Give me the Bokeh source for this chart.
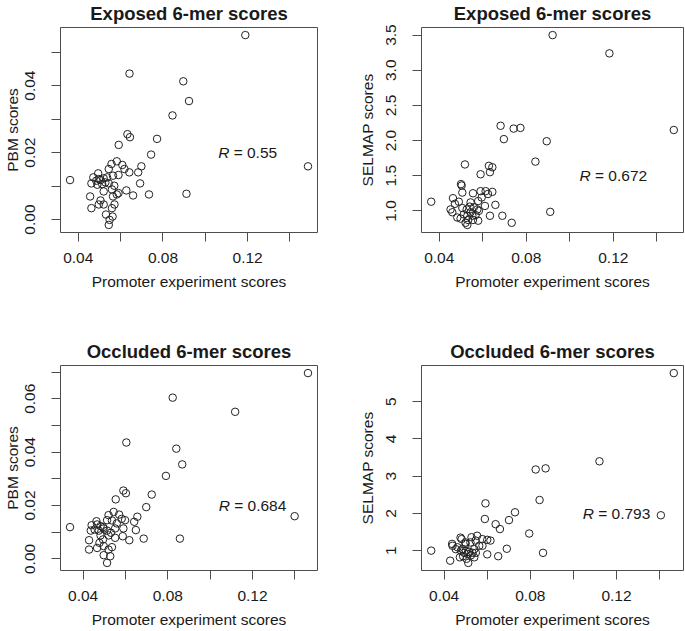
from bokeh.plotting import figure
from bokeh.layouts import column, row
from bokeh.models import (Range1d, LinearAxis, FixedTicker, PrintfTickFormatter,
                          ColumnDataSource)
from bokeh.core.properties import value
from bokeh.embed import file_html
from bokeh.resources import INLINE

FONT = "Liberation Sans"

# ---------------- data ----------------
# Exposed 6-mer scores: promoter experiment (x) vs PBM (y)
exp_pbm_x = [0.1189, 0.0642, 0.0896, 0.0923, 0.0845, 0.0632, 0.0644, 0.0772, 0.0591, 0.0744,
             0.1485, 0.0361, 0.0911, 0.0734, 0.0659, 0.0698, 0.0683, 0.0692, 0.0627,
             0.0582, 0.0557, 0.0608, 0.0618, 0.0641, 0.0544, 0.0590, 0.0564, 0.0494, 0.0471,
             0.0462, 0.0485, 0.0505, 0.0520, 0.0513, 0.0528, 0.0544, 0.0520, 0.0559, 0.0590,
             0.0582, 0.0564, 0.0456, 0.0505, 0.0497, 0.0520, 0.0571, 0.0462, 0.0559, 0.0531,
             0.0562, 0.0548, 0.0544, 0.0497, 0.0536, 0.0490, 0.0570]
exp_pbm_y = [0.0551, 0.0436, 0.0413, 0.0354, 0.0311, 0.0255, 0.0246, 0.0241, 0.0223, 0.0194,
             0.0159, 0.0118, 0.0077, 0.0075, 0.0072, 0.0159, 0.0141, 0.0108, 0.0087,
             0.0174, 0.0166, 0.0163, 0.0151, 0.0141, 0.0151, 0.0133, 0.0131, 0.0138, 0.0126,
             0.0108, 0.0116, 0.0118, 0.0123, 0.0106, 0.0111, 0.0108, 0.0084, 0.0090, 0.0079,
             0.0075, 0.0069, 0.0069, 0.0057, 0.0045, 0.0045, 0.0045, 0.0034, 0.0034, 0.0015,
             0.0009, -0.0001, -0.0016, 0.0121, 0.0126, 0.0104, 0.0101]

# Exposed 6-mer scores: promoter experiment (x) vs SELMAP (y)
exp_sel_x = [0.0921, 0.1182, 0.1478, 0.0682, 0.0742, 0.0773, 0.0697, 0.0894, 0.0842, 0.0910,
             0.0733, 0.0690, 0.0633, 0.0658, 0.0644, 0.0628, 0.0644, 0.0633, 0.0518, 0.0590,
             0.0363, 0.0500, 0.0503, 0.0506, 0.0463, 0.0472, 0.0555, 0.0590, 0.0613, 0.0624,
             0.0595, 0.0579, 0.0610, 0.0544, 0.0490, 0.0452, 0.0460, 0.0506, 0.0526, 0.0540,
             0.0559, 0.0575, 0.0582, 0.0544, 0.0513, 0.0529, 0.0552, 0.0567, 0.0483, 0.0498,
             0.0533, 0.0555, 0.0579, 0.0521, 0.0529]
exp_sel_y = [3.50, 3.24, 2.15, 2.21, 2.17, 2.18, 2.02, 1.99, 1.70, 0.986,
             0.83, 0.93, 0.93, 1.085, 1.27, 1.64, 1.62, 1.55, 1.66, 1.52,
             1.13, 1.38, 1.36, 1.26, 1.18, 1.10, 1.25, 1.28, 1.28, 1.24,
             1.19, 1.14, 1.07, 1.12, 1.13, 1.02, 0.98, 1.04, 1.02, 1.06,
             1.05, 1.02, 1.00, 0.98, 0.95, 0.93, 0.93, 0.94, 0.905, 0.89,
             0.87, 0.87, 0.86, 0.83, 0.80]

# Occluded 6-mer scores: promoter experiment (x) vs PBM (y)
occ_pbm_x = [0.1462, 0.0823, 0.1118, 0.0604, 0.0840, 0.0868, 0.0791, 0.0590, 0.0602, 0.0724,
             0.0554, 0.0698, 0.1399, 0.0338, 0.0857, 0.0686, 0.0618, 0.0656, 0.0641, 0.0649,
             0.0587, 0.0544, 0.0520, 0.0570, 0.0582, 0.0598, 0.0536, 0.0513, 0.0559, 0.0463,
             0.0440, 0.0466, 0.0482, 0.0494, 0.0436, 0.0454, 0.0474, 0.0497, 0.0513, 0.0590,
             0.0551, 0.0531, 0.0428, 0.0482, 0.0520, 0.0551, 0.0494, 0.0477, 0.0466, 0.0497,
             0.0536, 0.0428, 0.0520, 0.0497, 0.0528, 0.0513]
occ_pbm_y = [0.0696, 0.0604, 0.0551, 0.0436, 0.0413, 0.0354, 0.0311, 0.0256, 0.0246, 0.0241,
             0.0223, 0.0194, 0.0160, 0.0119, 0.0076, 0.0076, 0.0070, 0.0158, 0.0139, 0.0108,
             0.0085, 0.0176, 0.0164, 0.0166, 0.0150, 0.0145, 0.0144, 0.0145, 0.0133, 0.0141,
             0.0126, 0.0129, 0.0123, 0.0119, 0.0106, 0.0110, 0.0106, 0.0114, 0.0106, 0.0114,
             0.0114, 0.0098, 0.0070, 0.0088, 0.0088, 0.0079, 0.0073, 0.0060, 0.0041, 0.0048,
             0.0044, 0.0035, 0.0035, 0.0014, 0.0010, -0.0015]

# Occluded 6-mer scores: promoter experiment (x) vs SELMAP (y)
occ_sel_x = [0.1466, 0.1121, 0.0825, 0.0871, 0.0843, 0.1406, 0.0729, 0.0701, 0.0592, 0.0589,
             0.0639, 0.0659, 0.0795, 0.0691, 0.0651, 0.0859, 0.0600, 0.0340, 0.0428, 0.0512,
             0.0553, 0.0527, 0.0481, 0.0476, 0.0499, 0.0499, 0.0522, 0.0546, 0.0577, 0.0600,
             0.0615, 0.0563, 0.0578, 0.0437, 0.0439, 0.0454, 0.0462, 0.0478, 0.0485, 0.0493,
             0.0501, 0.0509, 0.0516, 0.0524, 0.0532, 0.0540, 0.0488, 0.0473, 0.0540, 0.0547,
             0.0504]
occ_sel_y = [5.77, 3.40, 3.18, 3.21, 2.36, 1.95, 2.03, 1.82, 2.27, 1.85,
             1.71, 1.58, 1.46, 1.05, 0.85, 0.94, 0.90, 1.00, 0.73, 0.67,
             1.40, 1.36, 1.31, 1.35, 1.22, 1.18, 1.22, 1.27, 1.31, 1.29,
             1.27, 1.13, 1.13, 1.18, 1.13, 1.04, 1.09, 1.00, 1.04, 0.94,
             1.00, 0.91, 0.97, 0.87, 0.94, 0.82, 0.85, 0.82, 1.04, 0.94,
             0.78]

titles = ["Exposed 6-mer scores", "Exposed 6-mer scores", "Occluded 6-mer scores", "Occluded 6-mer scores"]
y_labels = ["PBM scores", "SELMAP scores", "PBM scores", "SELMAP scores"]
x_label = "Promoter experiment scores"
r_values = ["0.55", "0.672", "0.684", "0.793"]
r_x = [0.12, 0.12, 0.12, 0.12]
r_y = [0.02, 1.5, 0.02, 2.0]

x_ticks_labeled = [0.04, 0.08, 0.12]
x_ticks_unlabeled = [0.06, 0.10, 0.14]
y_ticks_labeled = [[0.00, 0.02, 0.04], [1.0, 1.5, 2.0, 2.5, 3.0, 3.5],
                   [0.00, 0.02, 0.04, 0.06], [1, 2, 3, 4, 5]]
y_ticks_unlabeled = [[0.01, 0.03, 0.05], [], [0.01, 0.03, 0.05, 0.07], []]
y_formats = ["%.2f", "%.1f", "%.2f", "%.0f"]

# ---------------- styling ----------------
TXT = "#1a1a1a"
LINE = "#4d4d4d"
FS = "15.5px"


def text_w(s):
    w = {"R": 0.722, " ": 0.278, "=": 0.584, ".": 0.278}
    return sum(w.get(c, 0.556) for c in s) * 15.5


def line_axis():
    return LinearAxis(ticker=FixedTicker(ticks=[]), axis_line_color=LINE, axis_line_width=1,
                      major_tick_in=0, major_tick_out=0, minor_tick_in=0, minor_tick_out=0,
                      major_tick_line_color=None, minor_tick_line_color=None,
                      major_label_text_font_size="0px", major_label_standoff=0)


def panel(i, xs, ys, width, height, bl, br, bt, bb, ylab_std):
    xpad = 0.04 * (max(xs) - min(xs))
    ypad = 0.04 * (max(ys) - min(ys))
    x0, x1 = min(xs) - xpad, max(xs) + xpad
    y0, y1 = min(ys) - ypad, max(ys) + ypad
    p = figure(width=width, height=height, title=titles[i],
               x_range=Range1d(x0, x1), y_range=Range1d(y0, y1),
               x_axis_location=None, y_axis_location=None,
               output_backend="svg", toolbar_location=None,
               min_border_left=bl, min_border_right=br,
               min_border_top=bt, min_border_bottom=bb)
    p.grid.visible = False
    p.outline_line_color = None
    p.background_fill_color = "white"
    p.border_fill_color = "white"

    p.title.text_font = FONT
    p.title.text_font_size = "18.5px"
    p.title.text_font_style = "bold"
    p.title.text_color = TXT
    p.title.align = "center"
    p.title.vertical_align = "top"
    p.title.standoff = 4

    xaxis = LinearAxis(ticker=FixedTicker(ticks=x_ticks_labeled, minor_ticks=x_ticks_unlabeled),
                       formatter=PrintfTickFormatter(format="%.2f"),
                       axis_label=x_label)
    yaxis = LinearAxis(ticker=FixedTicker(ticks=y_ticks_labeled[i], minor_ticks=y_ticks_unlabeled[i]),
                       formatter=PrintfTickFormatter(format=y_formats[i]),
                       axis_label=y_labels[i],
                       major_label_orientation="vertical")
    for ax, std, lstd in ((xaxis, 11, 7), (yaxis, 16, ylab_std)):
        ax.axis_line_color = LINE
        ax.axis_line_width = 1
        ax.major_tick_in = 0
        ax.major_tick_out = 9
        ax.minor_tick_in = 0
        ax.minor_tick_out = 9
        ax.major_tick_line_color = LINE
        ax.minor_tick_line_color = LINE
        ax.major_label_text_font = FONT
        ax.major_label_text_font_size = FS
        ax.major_label_text_color = TXT
        ax.major_label_standoff = std
        ax.axis_label_text_font = FONT
        ax.axis_label_text_font_size = FS
        ax.axis_label_text_font_style = "normal"
        ax.axis_label_text_color = TXT
        ax.axis_label_standoff = lstd
    p.add_layout(xaxis, "below")
    p.add_layout(yaxis, "left")
    p.add_layout(line_axis(), "above")
    p.add_layout(line_axis(), "right")

    src = ColumnDataSource(dict(x=xs, y=ys))
    p.scatter("x", "y", source=src, marker="circle", size=7.5,
              fill_color=None, line_color="#222222", line_width=1)

    rest = "= " + r_values[i]
    total = text_w("R " + rest)
    r_edge = -total / 2 + text_w("R")
    rest_left = r_edge + text_w(" ")
    tsrc = ColumnDataSource(dict(x=[r_x[i]], y=[r_y[i]], r=["R"], t=[rest]))
    p.text("x", "y", text="r", source=tsrc, x_offset=r_edge, text_align="right",
           text_baseline="middle", text_font=value(FONT), text_font_size=FS,
           text_font_style="italic", text_color=TXT)
    p.text("x", "y", text="t", source=tsrc, x_offset=rest_left, text_align="left",
           text_baseline="middle", text_font=value(FONT), text_font_size=FS,
           text_color=TXT)
    return p


# figure geometry: frames at x 56-317 / 421-683 and y 27-232 / 365-570
p1 = panel(0, exp_pbm_x, exp_pbm_y, 350, 313, 56, 33, 27, 81, 2)
p2 = panel(1, exp_sel_x, exp_sel_y, 335, 313, 71, 2, 27, 81, 8)
p3 = panel(2, occ_pbm_x, occ_pbm_y, 350, 318, 56, 33, 52, 61, 2)
p4 = panel(3, occ_sel_x, occ_sel_y, 335, 318, 71, 2, 52, 61, 8)

layout = column(row(p1, p2), row(p3, p4))
open("out.html", "w").write(file_html(layout, INLINE))
